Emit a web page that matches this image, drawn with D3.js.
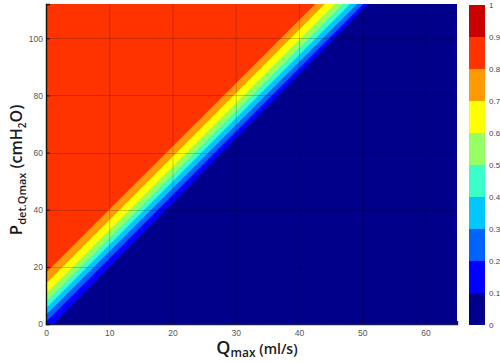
<!DOCTYPE html>
<html>
<head>
<meta charset="utf-8">
<script src="https://cdn.jsdelivr.net/npm/d3@7"></script>
<style>
  html, body { margin: 0; padding: 0; background: #fff; }
  svg { display: block; }
</style>
</head>
<body>
<div id="chart"></div>
<script>
// contour levels (lower edge of each band above navy)
const levels = [0.1, 0.2, 0.3, 0.4, 0.5, 0.6, 0.7, 0.8];
// where each level boundary meets Qmax = 0 (Pdet value)
const edgeAtQ0 = [-2.6, 0.8, 3.2, 5.5, 7.8, 10.7, 14.2, 17.9];
// where each level boundary meets the top of the plot (Qmax value)
const edgeAtTop = [51.0, 50.2, 49.2, 48.1, 47.0, 45.7, 44.1, 42.6];
// colour for each band, 0-0.1 up to 0.9-1
const bandColors = ["#00008a", "#0000ff", "#0062ff", "#00c8ff", "#3cffc8",
                    "#96ff64", "#ffff00", "#ff9a00", "#ff3300", "#c80000"];
const barTicks = [0, 0.1, 0.2, 0.3, 0.4, 0.5, 0.6, 0.7, 0.8, 0.9, 1];
const xTicks = [0, 10, 20, 30, 40, 50, 60];
const yTicks = [0, 20, 40, 60, 80, 100];

const W = 500, H = 362;
const PLOT = { left: 46, right: 457, top: 4, bottom: 324 };
const X_MAX = 65, Y_MAX = 112;

const x = d3.scaleLinear().domain([0, X_MAX]).range([PLOT.left, PLOT.right]);
const y = d3.scaleLinear().domain([0, Y_MAX]).range([PLOT.bottom, PLOT.top]);

const svg = d3.select("#chart").append("svg")
    .attr("width", W).attr("height", H)
    .attr("viewBox", [0, 0, W, H]);

svg.append("defs").append("clipPath").attr("id", "plotClip")
    .append("rect")
    .attr("x", PLOT.left).attr("y", PLOT.top)
    .attr("width", PLOT.right - PLOT.left).attr("height", PLOT.bottom - PLOT.top);

const plot = svg.append("g").attr("clip-path", "url(#plotClip)");

// base band (0 - 0.1)
plot.append("rect")
    .attr("x", PLOT.left).attr("y", PLOT.top)
    .attr("width", PLOT.right - PLOT.left).attr("height", PLOT.bottom - PLOT.top)
    .attr("fill", bandColors[0]);

// each level paints the half-plane above-left of its boundary line
const halfPlane = (p0, qTop) => {
    const m = (Y_MAX - p0) / qTop;
    const ext = 40;
    return [
        [-ext, p0 - ext * m],
        [qTop + ext, Y_MAX + ext * m],
        [-ext, Y_MAX + ext * m]
    ];
};

plot.selectAll("path.band")
    .data(levels)
    .join("path")
    .attr("class", "band")
    .attr("fill", (d, i) => bandColors[i + 1])
    .attr("d", (d, i) => d3.line().x(p => x(p[0])).y(p => y(p[1]))(halfPlane(edgeAtQ0[i], edgeAtTop[i])) + "Z");

// grid
const grid = plot.append("g").attr("stroke", "#000").attr("stroke-opacity", 0.2).attr("stroke-width", 1);
grid.selectAll("line.gx").data(xTicks.slice(1)).join("line")
    .attr("x1", d => x(d) + 0.5).attr("x2", d => x(d) + 0.5)
    .attr("y1", PLOT.top).attr("y2", PLOT.bottom);
grid.selectAll("line.gy").data(yTicks.slice(1)).join("line")
    .attr("y1", d => Math.round(y(d)) + 0.5).attr("y2", d => Math.round(y(d)) + 0.5)
    .attr("x1", PLOT.left).attr("x2", PLOT.right);

// axes
const tickFont = "'Liberation Sans', Arial, sans-serif";
const xAxis = svg.append("g")
    .attr("transform", `translate(0,${PLOT.bottom})`)
    .call(d3.axisBottom(x).tickValues(xTicks).tickSize(-3).tickPadding(6).tickFormat(d3.format("d")));
const yAxis = svg.append("g")
    .attr("transform", `translate(${PLOT.left},0)`)
    .call(d3.axisLeft(y).tickValues(yTicks).tickSize(-4).tickPadding(3).tickFormat(d3.format("d")));

[xAxis, yAxis].forEach(a => {
    a.select(".domain").attr("stroke", "#111").attr("stroke-width", 1.4);
    a.selectAll(".tick line").attr("stroke", "#111");
    a.selectAll("text").attr("fill", "#555").attr("font-size", 8.5).attr("font-family", tickFont);
});
xAxis.select(".domain").attr("stroke", "#1a1a5a");

// axis titles
const titleFont = "'Open Sans', 'Noto Sans', sans-serif";
const xTitle = svg.append("text")
    .attr("x", 257).attr("y", 354)
    .attr("text-anchor", "middle")
    .attr("font-family", titleFont).attr("font-weight", 600).attr("fill", "#1a1a1a");
xTitle.append("tspan").attr("font-size", 18).text("Q");
xTitle.append("tspan").attr("font-size", 12).attr("dy", 3).text("max");
xTitle.append("tspan").attr("font-size", 14).attr("dy", -3).text(" (ml/s)");

const yTitle = svg.append("text")
    .attr("transform", "translate(22,170) rotate(-90)")
    .attr("text-anchor", "middle")
    .attr("font-family", titleFont).attr("font-weight", 600).attr("fill", "#1a1a1a");
yTitle.append("tspan").attr("font-size", 17).text("P");
yTitle.append("tspan").attr("font-size", 11).attr("dy", 4).text("det.Qmax");
yTitle.append("tspan").attr("font-size", 16).attr("dy", -4).text(" (cmH");
yTitle.append("tspan").attr("font-size", 10).attr("dy", 4).text("2");
yTitle.append("tspan").attr("font-size", 16).attr("dy", -4).text("O)");

// colour bar
const cb = d3.scaleLinear().domain([0, 1]).range([325, 5]);
const CB_X = 469, CB_W = 16;
const bar = svg.append("g");
bar.selectAll("rect").data(bandColors).join("rect")
    .attr("x", CB_X).attr("width", CB_W)
    .attr("y", (d, i) => cb((i + 1) / 10))
    .attr("height", (d, i) => cb(i / 10) - cb((i + 1) / 10))
    .attr("fill", d => d);
bar.selectAll("text").data(barTicks).join("text")
    .attr("x", CB_X + CB_W + 4)
    .attr("y", d => cb(d) + 3)
    .attr("font-size", 8).attr("font-family", tickFont).attr("fill", "#444")
    .text(d => d === 0 || d === 1 ? d : d.toFixed(1));
</script>
</body>
</html>
